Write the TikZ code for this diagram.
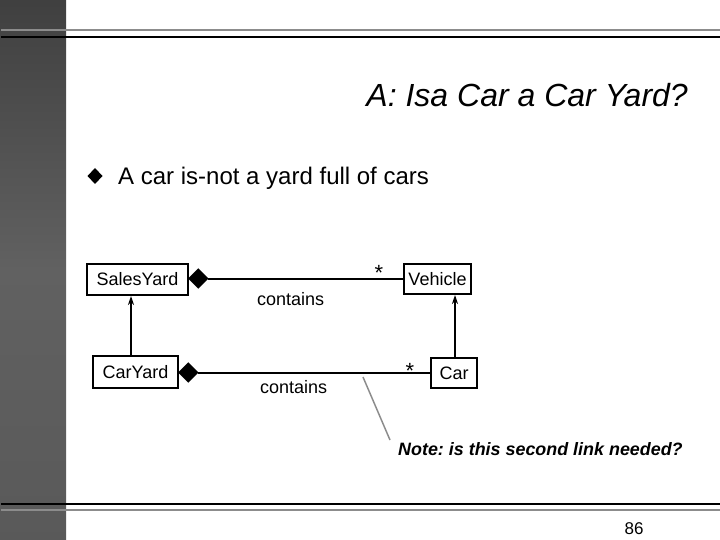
\documentclass[tikz,border=0pt]{standalone}
\usepackage{fontspec}
\setmainfont{Liberation Sans}
\usetikzlibrary{shapes.geometric,arrows.meta}
\newcommand{\fs}[1]{\fontsize{#1}{#1}\selectfont}
\frenchspacing
\begin{document}
\begin{tikzpicture}[x=1pt,y=-1pt,
  cls/.style={draw,line width=2pt,inner sep=0pt,font=\fs{18}},
  agg/.style={diamond,draw,fill=black,inner sep=0pt,minimum width=20pt,minimum height=20pt,anchor=west},
  assoc/.style={line width=2pt},
  gen/.style={line width=2pt,-{Stealth[length=9pt,width=6pt]}},
  lbl/.style={font=\fs{18},inner sep=0pt,anchor=base west},
  mult/.style={font=\fs{22},inner sep=0pt,anchor=base}]
\useasboundingbox (0,0) rectangle (720,540);
\fill[white] (0,0) rectangle (720,540);
% left bar
\shade[top color=black!75, bottom color=black!65, middle color=black!62] (0,0) rectangle (66,540);
% rules
\draw[line width=2pt,black!45] (1,30) -- (720,30);
\draw[line width=2.2pt,black] (1,37) -- (720,37);
\draw[line width=2.2pt,black] (1,504) -- (720,504);
\draw[line width=2pt,black!45] (1,510) -- (720,510);
% title and bullet
\node[font=\fs{32}\itshape,inner sep=0pt,anchor=base east] (title) at (688,107) {A: Isa Car a Car Yard?};
\fill (95,168) -- (102.5,176) -- (95,184) -- (87.5,176) -- cycle;
\node[font=\fs{24},inner sep=0pt,anchor=base west] (bullet) at (118,185) {A car is-not a yard full of cars};
% classes
\node[cls,minimum width=101pt,minimum height=31pt] (sy) at (137.5,279.5) {SalesYard};
\node[cls,minimum width=85pt,minimum height=32pt] (cy) at (135.5,372) {CarYard};
\node[cls,minimum width=67pt,minimum height=30pt] (veh) at (437.5,279) {Vehicle};
\node[cls,minimum width=46pt,minimum height=30pt] (car) at (454,373) {Car};
% aggregation diamonds
\node[agg] (d1) at (188,278.5) {};
\node[agg] (d2) at (178,372.5) {};
\draw[assoc] (d1.east) -- (veh.west |- d1.east);
\draw[assoc] (d2.east) -- (car.west |- d2.east);
\node[lbl] (c1) at (257,305) {contains};
\node[lbl] (c2) at (260,393) {contains};
\node[mult] (m1) at (379,280) {*};
\node[mult] (m2) at (410,378) {*};
% generalisation
\coordinate (g1) at (131,0);
\draw[gen] (cy.north -| g1) -- (sy.south -| g1);
\coordinate (g2) at (455,0);
\draw[gen] (car.north -| g2) -- (veh.south -| g2);
% note
\node[font=\fs{17.9}\bfseries\itshape,inner sep=0pt,anchor=base west] (note) at (398,455) {Note: is this second link needed?};
\coordinate (ns) at (363,377);
\coordinate (ne) at (390,440);
\draw[line width=1.5pt,black!45] (ns) -- (ne);
% page number
\node[font=\fs{17},inner sep=0pt,anchor=base] (pg) at (634,534) {86};
\end{tikzpicture}
\end{document}
